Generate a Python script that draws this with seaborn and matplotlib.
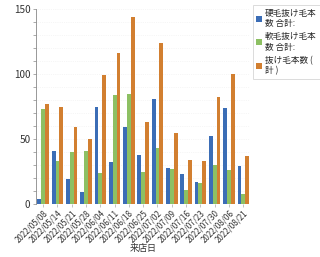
import matplotlib
matplotlib.use("Agg")
import matplotlib.pyplot as plt
import seaborn as sns
import pandas as pd
from matplotlib.ticker import MultipleLocator

dates = ["2022/05/08", "2022/05/14", "2022/05/21", "2022/05/28", "2022/06/04",
         "2022/06/11", "2022/06/18", "2022/06/25", "2022/07/02", "2022/07/09",
         "2022/07/16", "2022/07/23", "2022/07/30", "2022/08/06", "2022/08/21"]
hard = [4, 41, 19, 9, 75, 32, 59, 38, 81, 28, 23, 17, 52, 74, 29]
soft = [73, 33, 40, 41, 24, 84, 85, 25, 43, 27, 11, 16, 30, 26, 8]
total = [77, 75, 59, 50, 99, 116, 144, 63, 124, 55, 34, 33, 82, 100, 37]
series = ["硬毛抜け毛本\n数 合計:", "軟毛抜け毛本\n数 合計:", "抜け毛本数 (\n計 )"]
colors = ["#3b6db6", "#8dc063", "#d27f30"]

rows = []
for i, d in enumerate(dates):
    for s, vals in zip(series, [hard, soft, total]):
        rows.append({"来店日": d, "series": s, "value": vals[i]})
df = pd.DataFrame(rows)

sns.set_style("white")
plt.rcParams['font.family'] = ['Noto Sans CJK JP', 'DejaVu Sans']

fig = plt.figure(figsize=(3.2, 2.57), dpi=100)
ax = fig.add_axes([0.1125, 0.206, 0.67, 0.759])
sns.barplot(data=df, x="来店日", y="value", hue="series", palette=colors,
            hue_order=series, order=dates, width=0.8, ax=ax, saturation=1,
            linewidth=0, edgecolor="none")

ax.set_ylim(0, 150)
ax.set_xlim(-0.5, len(dates) - 0.5)
ax.yaxis.set_major_locator(MultipleLocator(50))
ax.yaxis.set_minor_locator(MultipleLocator(10))
ax.grid(axis="y", which="both", color="#eeeeee", linewidth=0.5, linestyle=":")
ax.set_axisbelow(True)
for sp in ["top", "right", "bottom"]:
    ax.spines[sp].set_visible(False)
ax.spines["left"].set_color("#888888")
ax.spines["left"].set_linewidth(0.6)
ax.tick_params(axis="y", which="major", labelsize=7.2, length=2, width=0.5,
               color="#888888", labelcolor="#333333", pad=2, left=True)
ax.tick_params(axis="y", which="minor", length=2, width=0.5, color="#888888", left=True)
ax.tick_params(axis="x", labelsize=5.8, length=2, width=0.5, color="#aaaaaa",
               labelcolor="#333333", pad=1, bottom=True)
plt.setp(ax.get_xticklabels(), rotation=45, ha="right", rotation_mode="anchor")
ax.set_ylabel("")
ax.set_xlabel("来店日", fontsize=6.5, color="#333333", labelpad=0)

leg = ax.legend(loc="upper left", bbox_to_anchor=(1.01, 1.02), fontsize=6.2,
                frameon=True, handlelength=0.7, handleheight=0.7,
                handletextpad=0.3, borderpad=0.4, labelspacing=0.5,
                fancybox=False, borderaxespad=0)
leg.get_frame().set_edgecolor("#cccccc")
leg.get_frame().set_linewidth(0.6)

fig.savefig("out.png", dpi=100)
